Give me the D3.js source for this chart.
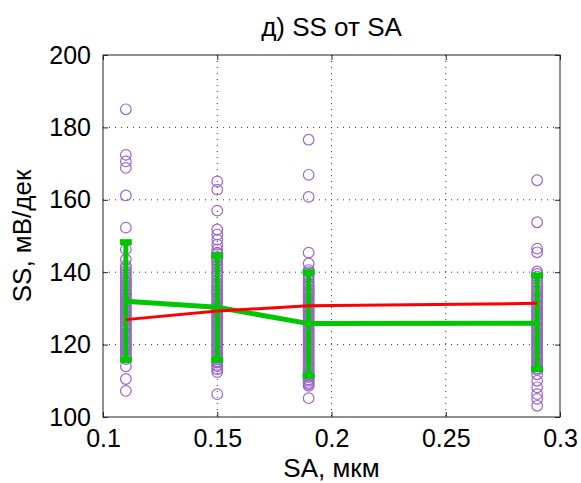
<!DOCTYPE html>
<html>
<head>
<meta charset="utf-8">
<script src="https://cdn.jsdelivr.net/npm/d3@7/dist/d3.min.js"></script>
<style>
  body { margin: 0; background: #fff; }
  svg { display: block; font-family: Arial, "Liberation Sans", sans-serif; }
</style>
</head>
<body>
<svg id="chart" width="581" height="483"></svg>
<script>
// SA levels (µm) at which SS was measured
const saLevels = [0.11, 0.15, 0.19, 0.29];

// Individual SS measurements (mV/dec) for each SA level
const ssAt011 = [185.0, 172.4, 170.6, 168.8, 161.2, 152.3, 146.3, 143.5, 141.8, 141, 140.2, 139.5,
  138.8, 138, 137.4, 137, 136.3, 136, 135.4, 135, 134.2, 134, 133.5, 133, 132.5, 132, 131.6, 131,
  130.4, 130, 129.5, 129, 128.5, 128, 127.6, 127, 126.5, 126, 125.4, 125, 124.5, 124, 123.3, 123,
  122.4, 122, 121.5, 121, 120.4, 120, 119.5, 119, 118.5, 118, 117.4, 117, 116.4, 116, 114,
  110.5, 107.2];
const ssAt015 = [165.1, 162.8, 157.0, 151.8, 150.4, 149.0, 147.6, 146.3, 145.4, 145, 144.2, 144,
  143.3, 143, 142.2, 141.5, 140.8, 140, 139.3, 138.5, 137.8, 137, 136.4, 136, 135.3, 135, 134.5,
  134, 133.4, 133, 132.5, 132, 131.4, 131, 130.5, 130, 129.4, 129, 128.5, 128, 127.5, 127, 126.4,
  126, 125.5, 125, 124.4, 124, 123.5, 123, 122.4, 122, 121.5, 121, 120.4, 120, 119.5, 119, 118.4,
  118, 117.4, 117, 116.5, 116, 115.4, 115, 114.4, 114, 113.2, 112.4, 106.3];
const ssAt019 = [176.6, 166.9, 160.8, 145.4, 142.4, 140.6, 140, 139.2, 138.5, 137.8, 137, 136.4,
  136, 135.3, 135, 134.4, 134, 133.5, 133, 132.4, 132, 131.5, 131, 130.4, 130, 129.5, 129, 128.4,
  128, 127.5, 127, 126.4, 126, 125.5, 125, 124.4, 124, 123.5, 123, 122.4, 122, 121.5, 121, 120.4,
  120, 119.5, 119, 118.4, 118, 117.5, 117, 116.4, 116, 115.5, 115, 114.4, 114, 113.5, 113, 112.4,
  112, 111.4, 111, 110.4, 110, 109.4, 109, 108.6, 105.2];
const ssAt029 = [165.4, 153.8, 146.5, 145.5, 140.2, 139.5, 138.8, 138, 137.3, 136.5, 135.8, 135,
  134.5, 134, 133.4, 133, 132.5, 132, 131.4, 131, 130.5, 130, 129.4, 129, 128.5, 128, 127.4, 127,
  126.5, 126, 125.4, 125, 124.5, 124, 123.4, 123, 122.5, 122, 121.4, 121, 120.5, 120, 119.4, 119,
  118.5, 118, 117.4, 117, 116.5, 116, 115.4, 115, 114.5, 114, 113.4, 113, 111.8, 110, 108.2, 106.3,
  105, 103.1];
const ssSamples = [ssAt011, ssAt015, ssAt019, ssAt029];

// Group mean with error range (green) and trend (red)
const meanSS = [132.0, 130.3, 125.8, 125.9];
const upperSS = [148.3, 144.6, 140.0, 139.1];
const lowerSS = [115.8, 115.8, 111.4, 113.2];
const trendSS = [126.9, 129.3, 130.7, 131.4];

// Axis ticks
const xTicks = [0.1, 0.15, 0.2, 0.25, 0.3];
const yTicks = [100, 120, 140, 160, 180, 200];

const titleText = "д) SS от SA";
const xLabel = "SA, мкм";
const yLabel = "SS, мВ/дек";

const svg = d3.select("#chart");
const plot = { left: 103, right: 560, top: 55, bottom: 417 };

const x = d3.scaleLinear().domain([0.1, 0.3]).range([plot.left, plot.right]);
const y = d3.scaleLinear().domain([100, 200]).range([plot.bottom, plot.top]);

const fontSize = 25;
const labelSize = 26;

// dotted grid
const grid = svg.append("g").attr("stroke", "#333").attr("stroke-width", 1)
  .attr("stroke-dasharray", "1,5");
xTicks.slice(1, -1).forEach(t => {
  grid.append("line").attr("x1", x(t)).attr("x2", x(t)).attr("y1", plot.top).attr("y2", plot.bottom);
});
yTicks.slice(1, -1).forEach(t => {
  grid.append("line").attr("y1", y(t)).attr("y2", y(t)).attr("x1", plot.left).attr("x2", plot.right);
});

// scatter of individual measurements
const pts = svg.append("g").attr("fill", "none").attr("stroke", "#9966cc").attr("stroke-width", 1.2);
ssSamples.forEach((vals, i) => {
  vals.forEach(v => {
    pts.append("circle").attr("cx", x(saLevels[i])).attr("cy", y(v)).attr("r", 5.3);
  });
});

// mean line with error bars
const green = "#00c800";
const line = d3.line().x((d, i) => x(saLevels[i])).y(d => y(d));
svg.append("path").datum(meanSS).attr("d", line).attr("fill", "none")
  .attr("stroke", green).attr("stroke-width", 5);
const eb = svg.append("g");
saLevels.forEach((s, i) => {
  eb.append("line").attr("x1", x(s)).attr("x2", x(s)).attr("y1", y(upperSS[i])).attr("y2", y(lowerSS[i]))
    .attr("stroke", green).attr("stroke-width", 5);
  [upperSS[i], lowerSS[i]].forEach(v => {
    eb.append("line").attr("x1", x(s) - 6).attr("x2", x(s) + 6).attr("y1", y(v)).attr("y2", y(v))
      .attr("stroke", green).attr("stroke-width", 6);
  });
});

// trend line
svg.append("path").datum(trendSS).attr("d", line).attr("fill", "none")
  .attr("stroke", "#ff0000").attr("stroke-width", 3);

// frame
svg.append("rect").attr("x", plot.left).attr("y", plot.top)
  .attr("width", plot.right - plot.left).attr("height", plot.bottom - plot.top)
  .attr("fill", "none").attr("stroke", "#222").attr("stroke-width", 1);

// axes with inward ticks
const axB = svg.append("g").attr("transform", `translate(0,${plot.bottom})`)
  .call(d3.axisBottom(x).tickValues(xTicks).tickFormat(d3.format("")).tickSizeInner(-5).tickSizeOuter(0).tickPadding(12));
const axT = svg.append("g").attr("transform", `translate(0,${plot.top})`)
  .call(d3.axisTop(x).tickValues(xTicks).tickFormat("").tickSizeInner(-5).tickSizeOuter(0));
const axL = svg.append("g").attr("transform", `translate(${plot.left},0)`)
  .call(d3.axisLeft(y).tickValues(yTicks).tickSizeInner(-5).tickSizeOuter(0).tickPadding(12));
const axR = svg.append("g").attr("transform", `translate(${plot.right},0)`)
  .call(d3.axisRight(y).tickValues(yTicks).tickFormat("").tickSizeInner(-5).tickSizeOuter(0));
[axB, axT, axL, axR].forEach(a => {
  a.select(".domain").remove();
  a.selectAll(".tick line").attr("stroke", "#222");
  a.selectAll(".tick text").attr("fill", "#000").attr("font-size", fontSize)
    .attr("font-family", "Arial, 'Liberation Sans', sans-serif");
});

// titles
svg.append("text").attr("x", (plot.left + plot.right) / 2).attr("y", 36)
  .attr("text-anchor", "middle").attr("font-size", labelSize).text(titleText);
svg.append("text").attr("x", (plot.left + plot.right) / 2).attr("y", 477)
  .attr("text-anchor", "middle").attr("font-size", labelSize).text(xLabel);
svg.append("text").attr("transform", `translate(31,${(plot.top + plot.bottom) / 2}) rotate(-90)`)
  .attr("text-anchor", "middle").attr("font-size", labelSize).text(yLabel);
</script>
</body>
</html>
